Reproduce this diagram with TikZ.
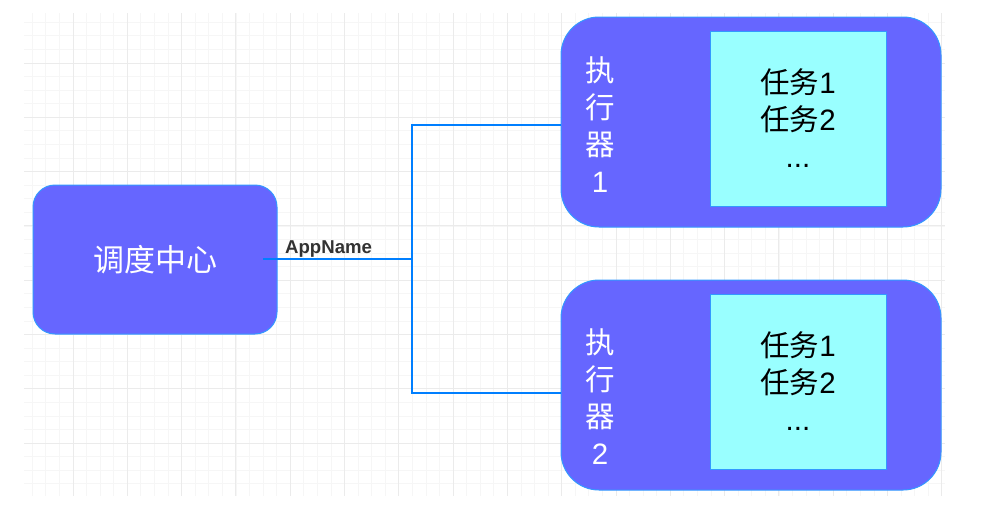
\documentclass[tikz,border=0pt]{standalone}
\usepackage{fontspec}
\setmainfont{Liberation Sans}
\newfontfamily\cjk{Noto Sans CJK SC}
\definecolor{boxfill}{HTML}{6666FF}
\definecolor{boxline}{HTML}{3399FF}
\definecolor{taskfill}{HTML}{99FFFF}
\definecolor{wire}{HTML}{007FFF}
\definecolor{gridmin}{HTML}{F6F6F6}
\definecolor{gridmaj}{HTML}{EBEBEB}
\begin{document}
\begin{tikzpicture}[x=1pt,y=-1pt,
  minorline/.style={gridmin,line width=0.8pt},
  majorline/.style={gridmaj,line width=1pt},
  bigbox/.style={draw=boxline,fill=boxfill,line width=1pt,text=white,inner sep=0pt},
  taskbox/.style={draw=boxline,fill=taskfill,line width=1pt,text=black,inner sep=0pt,
    minimum width=176pt,minimum height=175pt,align=center,font=\fontsize{29.5}{37}\selectfont},
  vlabel/.style={text=white,align=center,inner sep=0pt,font=\fontsize{29.5}{37}\selectfont},
  wireline/.style={wire,line width=2.2pt},
  edgelabel/.style={text=black!80,font=\bfseries\fontsize{18.6}{20}\selectfont,inner sep=0pt}]
\useasboundingbox (0,0) rectangle (981,504);
\fill[white] (0,0) rectangle (981,504);
% grid
\begin{scope}
\clip (24,13) rectangle (945,496);
\foreach \i in {1,...,68} {\draw[minorline] ({18.7+13.575*\i},13) -- ({18.7+13.575*\i},496);}
\foreach \i in {1,...,36} {\draw[minorline] (24,{8.7+13.575*\i}) -- (945,{8.7+13.575*\i});}
\foreach \i in {1,...,17} {\draw[majorline] ({18.7+54.3*\i},13) -- ({18.7+54.3*\i},496);}
\foreach \i in {1,...,9} {\draw[majorline] (24,{8.7+54.3*\i}) -- (945,{8.7+54.3*\i});}
\end{scope}
% boxes
\node[bigbox,rounded corners=22pt,minimum width=244pt,minimum height=149pt,
  font=\fontsize{31}{37}\selectfont] (center) at (155,259.5) {\cjk 调度中心};
\node[bigbox,rounded corners=38pt,minimum width=380pt,minimum height=210pt] (exec1) at (751,122) {};
\node[bigbox,rounded corners=38pt,minimum width=380pt,minimum height=210pt] (exec2) at (751,385) {};
\node[taskbox] (task1) at (798,118.5) {{\cjk 任务}1\\{\cjk 任务}2\\...};
\node[taskbox] (task2) at (798,381.5) {{\cjk 任务}1\\{\cjk 任务}2\\...};
\node[vlabel] (lab1) at (600,125) {{\cjk 执}\\{\cjk 行}\\{\cjk 器}\\1};
\node[vlabel] (lab2) at (600,397) {{\cjk 执}\\{\cjk 行}\\{\cjk 器}\\2};
% connectors
\coordinate (start) at (263,259);
\coordinate (junc) at (412,259);
\coordinate (e1) at (561,125);
\coordinate (e2) at (561,393);
\draw[wireline] (start) -- (junc);
\draw[wireline] (junc) |- (e1);
\draw[wireline] (junc) |- (e2);
\node[edgelabel,anchor=base west] (appname) at (285,253) {AppName};
\end{tikzpicture}
\end{document}
